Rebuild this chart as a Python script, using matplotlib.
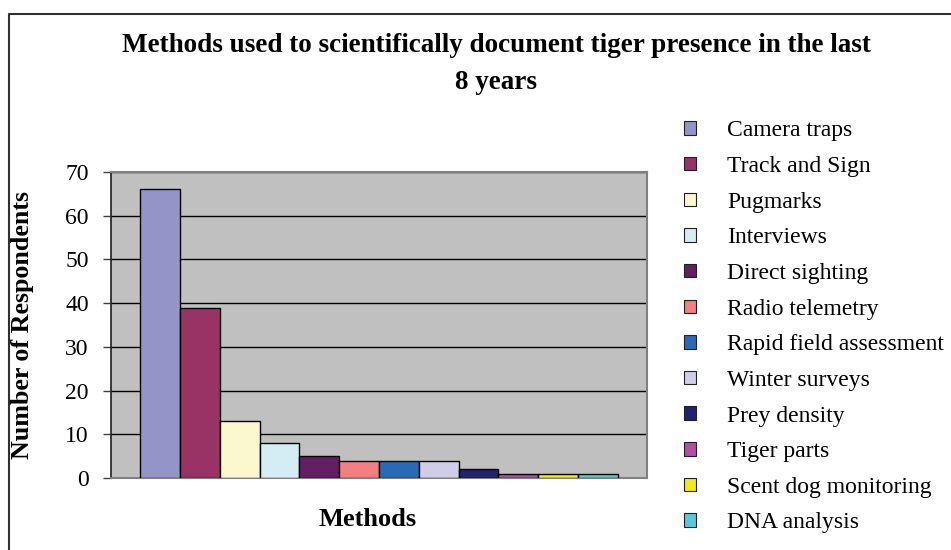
import matplotlib.pyplot as plt
from matplotlib.patches import Patch
from matplotlib.lines import Line2D

methods = ["Camera traps", "Track and Sign", "Pugmarks", "Interviews",
           "Direct sighting", "Radio telemetry", "Rapid field assessment",
           "Winter surveys", "Prey density", "Tiger parts",
           "Scent dog monitoring", "DNA analysis"]
respondents = [66, 39, 13, 8, 5, 4, 4, 4, 2, 1, 1, 1]
colors = ["#9594C8", "#993366", "#FBF8D0", "#D4ECF3", "#631F63", "#F28080",
          "#2A6AB4", "#D0CDE8", "#22236E", "#B0509F", "#F2EA1A", "#5BC8D8"]
yticks = [0, 10, 20, 30, 40, 50, 60, 70]

plt.rcParams['font.family'] = ['Liberation Serif', 'DejaVu Serif']

W, H = 951, 550
fig = plt.figure(figsize=(W / 100, H / 100), dpi=100)
ax = fig.add_axes([111 / W, 1 - 478 / H, 536 / W, 306 / H])
ax.set_facecolor("#C0C0C0")

x = list(range(len(methods)))
ax.bar(x, respondents, width=1.0, color=colors, edgecolor="black",
       linewidth=1.0, zorder=3)

ax.set_xlim(-1.23, 12.23)
ax.set_ylim(0, 70)
ax.set_yticks(yticks)
ax.set_yticklabels([str(t) for t in yticks], fontsize=17)
ax.set_xticks([])
ax.tick_params(axis='y', direction='out', length=6, width=1, pad=10,
               color="#404040")
ax.yaxis.grid(True, color="black", linewidth=1.0, zorder=0)
ax.set_axisbelow(True)

for side in ["top", "right", "bottom"]:
    ax.spines[side].set_color("#808080")
    ax.spines[side].set_linewidth(1.5)
ax.spines["left"].set_color("#202020")
ax.spines["left"].set_linewidth(1.2)

ax.set_ylabel("Number of Respondents", fontsize=18.7, fontweight="bold")
ax.yaxis.set_label_coords((34 - 111) / 536, 0.5)
ax.set_xlabel("Methods", fontsize=19, fontweight="bold")
ax.xaxis.set_label_coords((368 - 111) / 536, -(508 - 478) / 306)

fig.text(496 / W, 1 - 64 / H,
         "Methods used to scientifically document tiger presence in the last\n8 years",
         ha="center", va="center", fontsize=19.5, fontweight="bold",
         linespacing=1.6)

handles = [Patch(facecolor=c, edgecolor="#202020", linewidth=0.8) for c in colors]
fig.legend(handles, methods, loc="upper left",
           bbox_to_anchor=(675 / W, 1 - 111 / H), frameon=False,
           fontsize=17, handlelength=0.5, handleheight=0.5,
           handletextpad=1.3, labelspacing=0.62, borderaxespad=0)

# chart frame along the left and top edges
fig.add_artist(Line2D([9 / W, 9 / W, 1.0], [0.0, 1 - 14 / H, 1 - 14 / H],
                      transform=fig.transFigure, color="#303030",
                      linewidth=1.5))

fig.savefig("out.png", dpi=100)
